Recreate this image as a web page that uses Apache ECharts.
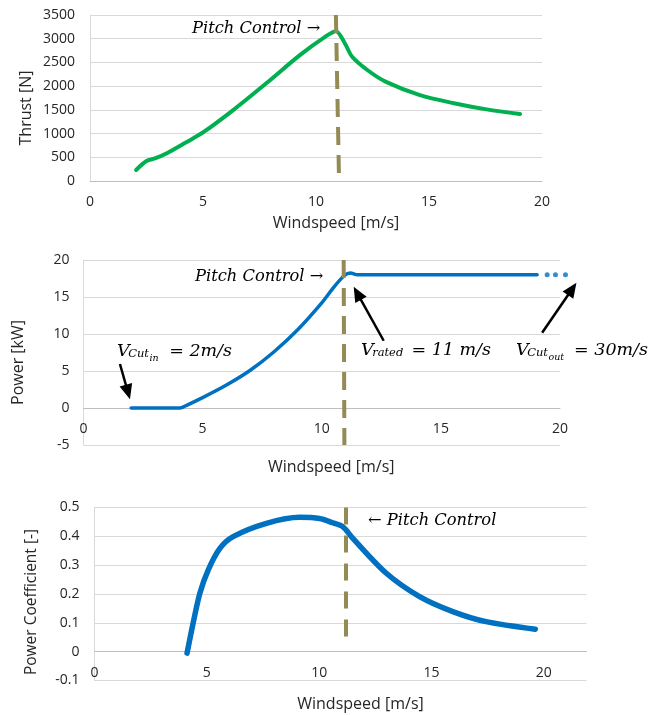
<!DOCTYPE html>
<html><head><meta charset="utf-8">
<script src="https://cdn.jsdelivr.net/npm/echarts@6/dist/echarts.min.js"></script>
<style>html,body{margin:0;padding:0;background:#fff}#c{width:664px;height:715px}</style>
</head><body><div id="c"></div>
<script>
// ---- data ----
const xTicks = [0, 5, 10, 15, 20];
const thrustData = [[2.04,232],[2.5,420],[2.9,480],[3.4,585],[4.2,800],[5.05,1040],[6.35,1500],[7.8,2060],[9.3,2660],[10.4,3040],[10.88,3160],[11.28,2900],[11.6,2620],[12.3,2330],[13.1,2090],[14.6,1810],[16.1,1640],[17.55,1510],[19.03,1412]];
const powerData = [[2,0],[3,0],[4.05,0],[4.35,0.4],[5,1.4],[6,3.1],[7,5.1],[8,7.6],[9,10.6],[10,14.2],[10.5,16.3],[10.95,17.9],[11.2,18.25],[11.5,18.0],[19.04,18.0]];
const powerDots = [[19.46,18],[19.81,18],[20.23,18]];
const cpData = [[4.12,-0.005],[4.39,0.099],[4.69,0.203],[5.06,0.283],[5.58,0.358],[6.17,0.399],[7.65,0.445],[9.13,0.466],[10.02,0.462],[10.6,0.447],[11.06,0.433],[11.5,0.393],[12.99,0.272],[14.47,0.191],[15.95,0.139],[17.43,0.104],[19.62,0.078]];
const pitchThrust = [[10.88,3500],[11.02,0]];
const pitchPower = [[10.92,20],[10.95,-5]];
const pitchCp = [[11.18,0.5],[11.18,0.035]];
// arrows: [tailX, tailY, tipX, tipY] in power-chart data units
const powerArrows = [[1.53,5.95,1.95,1.18],[12.6,9.09,11.34,16.39],[19.25,10.18,20.69,16.93]];

const LBL = {fontFamily:'Open Sans', fontSize:14, color:'#262626'};
const NAME = {fontFamily:'Open Sans', fontSize:16, color:'#262626'};
const GRID = '#d9d9d9';
const SERIF = 'DejaVu Serif';

const grids = [
  {left:90, top:15, width:452, height:166},
  {left:83.5, top:260, width:476.5, height:185},
  {left:94.5, top:507.5, width:492, height:173}
];
const yRanges = [[0,3500],[-5,20],[-0.1,0.5]];
// shift x axis up onto the y=0 line
function zeroOffset(gi){
  const r = yRanges[gi];
  return -grids[gi].height * (0 - r[0]) / (r[1] - r[0]);
}

function xAx(gi, max, gap, pad){
  return {type:'value', gridIndex:gi, min:0, max:max, interval:5, offset:zeroOffset(gi),
    name:'Windspeed [m/s]', nameLocation:'middle', nameGap:gap, nameMoveOverlap:false,
    nameTextStyle:Object.assign({padding:[0,0,0,pad]}, NAME),
    axisTick:{show:false}, splitLine:{show:false},
    axisLine:{onZero:false, lineStyle:{color:'#bfbfbf', width:1}},
    axisLabel:Object.assign({margin:14, showMaxLabel: max===20 ? true : false,
      formatter:function(v){ return xTicks.indexOf(v) >= 0 ? String(v) : ''; }}, LBL)};
}
function yAx(gi, itv, name, gap, pad, margin, nameSize){
  return {type:'value', gridIndex:gi, min:yRanges[gi][0], max:yRanges[gi][1], interval:itv,
    name:name, nameLocation:'middle', nameGap:gap, nameMoveOverlap:false,
    nameTextStyle:Object.assign({}, NAME, {padding:pad, fontSize:nameSize}),
    axisTick:{show:false},
    axisLine:{show:true, onZero:false, lineStyle:{color:GRID}},
    splitLine:{lineStyle:{color:GRID}},
    axisLabel:Object.assign({margin:margin, formatter:function(v){ return String(Math.round(v*1000)/1000); }}, LBL)};
}
function pitchLine(pts, dash){
  return {silent:true, symbol:'none', animation:false, label:{show:false},
    lineStyle:{color:'#948a54', width:4, type:dash, cap:'butt'},
    data:[[{coord:pts[0]},{coord:pts[1]}]]};
}
function arrowItem(params, api){
  const p1 = api.coord([api.value(0), api.value(1)]);
  const p2 = api.coord([api.value(2), api.value(3)]);
  const dx = p2[0]-p1[0], dy = p2[1]-p1[1];
  const len = Math.sqrt(dx*dx+dy*dy), ux = dx/len, uy = dy/len;
  const hl = 15, hw = 6.5;
  const bx = p2[0]-ux*hl, by = p2[1]-uy*hl;
  return {type:'group', children:[
    {type:'line', shape:{x1:p1[0], y1:p1[1], x2:bx+ux*2, y2:by+uy*2}, style:{stroke:'#000', lineWidth:2.5}},
    {type:'polygon', shape:{points:[[p2[0],p2[1]],[bx-uy*hw, by+ux*hw],[bx+uy*hw, by-ux*hw]]}, style:{fill:'#000'}}
  ]};
}
const ital = {fontFamily:SERIF, fontStyle:'italic', fill:'#000'};

// math-like label V_{sub_{subsub}} = rest, built from measured pieces
const mctx = document.createElement('canvas').getContext('2d');
function tw(t, size){ mctx.font = 'italic ' + size + 'px "' + SERIF + '"'; return mctx.measureText(t).width; }
function piece(t, x, y, size){
  return {type:'text', x:x, y:y, style:Object.assign({text:t, fontSize:size, align:'left', verticalAlign:'middle'}, ital)};
}
function vLabel(x, cy, sub, subsub, rest, targetW){
  const M = 17.5, S = 11.5, SS = 9.5;
  const out = [];
  let cx = x;
  out.push(piece('V', cx, cy, M)); cx += tw('V', M) - 1.5;
  out.push(piece(sub, cx, cy + 3.5, S)); cx += tw(sub, S) + 0.5;
  if (subsub){ out.push(piece(subsub, cx, cy + 8, SS)); cx += tw(subsub, SS); }
  // spread the "= value" part a little, like the math font spacing
  const restW = tw(rest, M);
  const extra = Math.max(0, (x + targetW) - (cx + restW));
  out.push(piece(rest, cx + extra, cy, M));
  return out;
}

const chart = echarts.init(document.getElementById('c'), null, {renderer:'canvas'});
chart.setOption({
  animation:false,
  backgroundColor:'#fff',
  grid:grids,
  xAxis:[ xAx(0, 20, 34, 40), xAx(1, 20, 51, 19), xAx(2, 21.9, 45, 40) ],
  yAxis:[
    yAx(0, 500, 'Thrust [N]', 56, [0,20,0,0], 15, 16),
    yAx(1, 5, 'Power [kW]', 57, [0,20,0,0], 14, 16),
    yAx(2, 0.1, 'Power Coefficient [-]', 55, [0,16,0,0], 15, 15.5)
  ],
  series:[
    {type:'line', xAxisIndex:0, yAxisIndex:0, data:thrustData, showSymbol:false, smooth:0.3,
      lineStyle:{color:'#00b050', width:4, cap:'round', join:'round'}, z:3,
      markLine:pitchLine(pitchThrust, [18,10])},
    {type:'line', xAxisIndex:1, yAxisIndex:1, data:powerData, showSymbol:false, smooth:0.3,
      lineStyle:{color:'#0070c0', width:3.5, cap:'round', join:'round'}, z:3,
      markLine:pitchLine(pitchPower, [18,10])},
    {type:'scatter', xAxisIndex:1, yAxisIndex:1, data:powerDots, symbol:'circle', symbolSize:5, clip:false,
      itemStyle:{color:'#0070c0'}, z:3},
    {type:'custom', xAxisIndex:1, yAxisIndex:1, data:powerArrows, renderItem:arrowItem, clip:false,
      encode:{x:[0,2], y:[1,3]}, z:5},
    {type:'line', xAxisIndex:2, yAxisIndex:2, data:cpData, showSymbol:false, smooth:0.3,
      lineStyle:{color:'#0070c0', width:5.5, cap:'round', join:'round'}, z:3,
      markLine:pitchLine(pitchCp, [17,11])}
  ],
  graphic:[
    {type:'text', left:192, top:21, style:Object.assign({text:'Pitch Control \u2192', fontSize:16.3}, ital)},
    {type:'text', left:195, top:269, style:Object.assign({text:'Pitch Control \u2192', fontSize:16.3}, ital)},
    {type:'text', left:368, top:513, style:Object.assign({text:'\u2190 Pitch Control', fontSize:16.3}, ital)}
  ].concat(vLabel(117, 351, 'Cut', 'in', ' = 2m/s', 115))
   .concat(vLabel(361, 350, 'rated', '', ' = 11 m/s', 130))
   .concat(vLabel(516, 350, 'Cut', 'out', ' = 30m/s', 132))
});
</script></body></html>
